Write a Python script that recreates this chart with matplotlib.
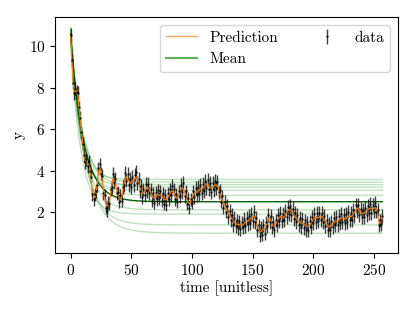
import numpy as np
import matplotlib
matplotlib.use("Agg")
import matplotlib.pyplot as plt
from matplotlib.lines import Line2D

plt.rcParams['font.family'] = 'serif'
plt.rcParams['font.serif'] = ['cmr10']
plt.rcParams['mathtext.fontset'] = 'cm'
plt.rcParams['axes.unicode_minus'] = False
plt.rcParams['axes.formatter.use_mathtext'] = True

# observed data (one per time step 0..257)
observed = [
10.55, 9.35, 8.25, 7.75, 7.95, 7.8, 7.75, 7.05, 6.55, 5.85,
5.3, 4.75, 4.4, 4.55, 4.2, 4.45, 4.0, 3.7, 2.85, 2.6,
2.85, 3.0, 3.3, 4.1, 4.3, 3.85, 3.75, 2.9, 2.8, 2.2,
2.05, 2.45, 2.4, 3.1, 3.2, 3.85, 3.45, 3.6, 2.9, 2.95,
2.5, 2.8, 2.55, 3.2, 3.3, 3.9, 3.5, 3.85, 3.3, 3.6,
3.2, 3.7, 3.3, 3.8, 3.95, 3.4, 3.6, 3.0, 3.25, 2.7,
3.1, 2.8, 3.35, 3.0, 3.35, 2.9, 3.1, 2.55, 2.9, 2.45,
2.95, 2.6, 3.05, 2.65, 3.0, 2.55, 2.9, 2.4, 2.8, 2.35,
2.9, 2.6, 3.1, 2.8, 3.25, 3.1, 2.6, 2.85, 2.5, 3.0,
2.75, 3.3, 2.95, 3.4, 2.75, 3.0, 2.4, 2.65, 2.2, 2.6,
2.45, 3.0, 2.7, 3.15, 2.8, 3.2, 2.85, 3.3, 2.9, 3.35,
3.0, 3.5, 3.15, 3.55, 3.1, 3.4, 2.95, 3.4, 3.05, 3.5,
3.15, 3.45, 2.95, 3.05, 2.5, 2.75, 2.2, 2.5, 2.0, 2.3,
1.75, 2.05, 1.6, 1.85, 1.35, 1.7, 1.3, 1.6, 1.2, 1.55,
1.15, 1.5, 1.25, 1.65, 1.3, 1.7, 1.4, 1.8, 1.45, 1.9,
1.55, 2.0, 1.5, 1.7, 1.1, 1.35, 0.85, 1.25, 0.9, 1.35,
0.95, 1.5, 1.3, 1.85, 1.5, 1.8, 1.25, 1.5, 1.1, 1.6,
1.35, 1.85, 1.55, 1.95, 1.55, 1.9, 1.6, 2.05, 1.75, 2.25,
1.9, 2.3, 1.85, 2.15, 1.65, 1.95, 1.5, 1.85, 1.35, 1.7,
1.25, 1.65, 1.2, 1.6, 1.1, 1.5, 1.1, 1.55, 1.25, 1.75,
1.45, 1.9, 1.5, 1.95, 1.55, 1.95, 1.6, 1.95, 1.5, 1.8,
1.3, 1.6, 1.1, 1.45, 1.1, 1.55, 1.25, 1.7, 1.35, 1.75,
1.35, 1.8, 1.45, 1.9, 1.5, 1.85, 1.45, 1.9, 1.5, 2.0,
1.6, 1.95, 1.6, 2.1, 1.8, 2.35, 2.0, 2.35, 1.85, 2.15,
1.75, 2.1, 1.75, 2.2, 1.85, 2.3, 1.95, 2.4, 1.95, 2.35,
2.0, 2.45, 2.0, 2.1, 1.35, 1.6, 1.4, 1.8]

prediction = [
10.5, 9.4, 8.3, 7.9, 7.8, 7.9, 7.6, 7.1, 6.5, 5.9,
5.3, 4.8, 4.5, 4.4, 4.3, 4.3, 4.1, 3.6, 3.0, 2.8,
2.7, 2.9, 3.4, 3.9, 4.1, 4.0, 3.6, 3.1, 2.7, 2.4,
2.3, 2.3, 2.5, 2.9, 3.3, 3.6, 3.6, 3.4, 3.1, 2.8,
2.7, 2.6, 2.7, 3.0, 3.4, 3.6, 3.7, 3.6, 3.5, 3.4,
3.4, 3.5, 3.5, 3.6, 3.7, 3.6, 3.4, 3.2, 3.0, 2.9,
2.9, 3.0, 3.1, 3.2, 3.1, 3.1, 2.9, 2.8, 2.7, 2.65,
2.7, 2.8, 2.85, 2.8, 2.8, 2.8, 2.7, 2.6, 2.6, 2.6,
2.7, 2.8, 2.9, 3.0, 3.0, 2.95, 2.8, 2.65, 2.7, 2.8,
2.95, 3.1, 3.15, 3.1, 2.95, 2.8, 2.6, 2.45, 2.4, 2.5,
2.65, 2.8, 2.9, 2.95, 2.95, 3.0, 3.05, 3.1, 3.1, 3.15,
3.2, 3.3, 3.35, 3.35, 3.25, 3.15, 3.15, 3.2, 3.25, 3.3,
3.3, 3.25, 3.1, 2.9, 2.7, 2.55, 2.4, 2.3, 2.2, 2.05,
1.95, 1.85, 1.75, 1.65, 1.55, 1.5, 1.45, 1.4, 1.4, 1.38,
1.37, 1.37, 1.38, 1.45, 1.5, 1.55, 1.55, 1.6, 1.65, 1.7,
1.75, 1.78, 1.7, 1.5, 1.3, 1.15, 1.05, 1.05, 1.1, 1.15,
1.15, 1.3, 1.5, 1.65, 1.7, 1.6, 1.45, 1.3, 1.3, 1.4,
1.55, 1.65, 1.75, 1.78, 1.75, 1.72, 1.78, 1.85, 1.95, 2.05,
2.1, 2.1, 2.05, 1.95, 1.85, 1.77, 1.7, 1.62, 1.55, 1.5,
1.47, 1.45, 1.42, 1.38, 1.33, 1.3, 1.3, 1.35, 1.45, 1.55,
1.65, 1.7, 1.72, 1.72, 1.72, 1.75, 1.78, 1.78, 1.7, 1.6,
1.5, 1.4, 1.32, 1.28, 1.3, 1.38, 1.45, 1.5, 1.55, 1.55,
1.55, 1.6, 1.65, 1.7, 1.7, 1.68, 1.65, 1.68, 1.72, 1.78,
1.8, 1.78, 1.8, 1.9, 2.0, 2.1, 2.18, 2.15, 2.05, 1.97,
1.93, 1.92, 1.95, 2.0, 2.05, 2.1, 2.15, 2.18, 2.15, 2.15,
2.17, 2.2, 2.15, 1.9, 1.55, 1.45, 1.6, 1.75]

time = np.arange(len(observed))
obs_err = [0.32] * len(observed)

# exponential-decay sample curves: start value, asymptote, decay time
sample_start = [10.9, 10.6, 10.8, 10.4, 10.7, 10.5, 10.9, 10.3, 10.6, 10.8]
sample_level = [3.57, 3.44, 3.32, 3.20, 3.05, 2.80, 2.10, 1.89, 1.37, 0.97]
sample_tau = [7.5, 9.0, 7.0, 10.0, 8.0, 9.5, 10.0, 8.5, 11.0, 12.0]
mean_start, mean_level, mean_tau = 10.6, 2.49, 10.5

fig = plt.figure(figsize=(4.15, 3.11), dpi=100)
ax = fig.add_axes([0.1325, 0.1865, 0.8265, 0.7585])

for y0, c, tau in zip(sample_start, sample_level, sample_tau):
    ax.plot(time, c + (y0 - c) * np.exp(-time / tau), color='C2', alpha=0.3, lw=1)
ax.plot(time, mean_level + (mean_start - mean_level) * np.exp(-time / mean_tau),
        color='darkgreen', lw=1)

eb = ax.errorbar(time, observed, yerr=obs_err, fmt='.', color='k', ms=1.5,
                 elinewidth=1, alpha=0.75)
ax.plot(time, prediction, color='C1', lw=1, alpha=0.9)

ax.set_xlabel('time [unitless]', fontsize=11, labelpad=2)
ax.set_ylabel('y', fontsize=11, labelpad=2)
ax.set_xticks([0, 50, 100, 150, 200, 250])
ax.set_yticks([2, 4, 6, 8, 10])
ax.tick_params(labelsize=11)

handles = [Line2D([], [], color='C1', lw=1, alpha=0.7),
           Line2D([], [], color='C2', lw=1.5, alpha=0.8),
           eb]
ax.legend(handles, ['Prediction', 'Mean', 'data'], ncol=2, loc='upper right',
          fontsize=11, columnspacing=2.2)

fig.savefig('out.png', dpi=100)
